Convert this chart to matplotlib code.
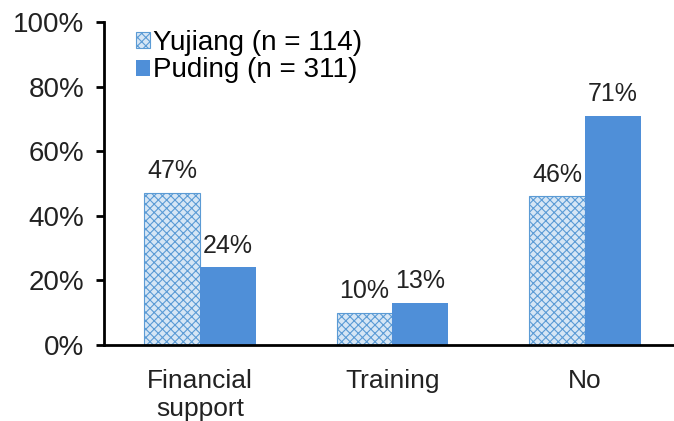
import numpy as np
import matplotlib.pyplot as plt
from matplotlib.ticker import FuncFormatter

categories = ['Financial\nsupport', 'Training', 'No']
yujiang = [47, 10, 46]
puding = [24, 13, 71]
series_names = ['Yujiang (n = 114)', 'Puding (n = 311)']

plt.rcParams['font.family'] = ['Liberation Sans', 'DejaVu Sans']
plt.rcParams['hatch.linewidth'] = 0.8

fig = plt.figure(figsize=(6.74, 4.21), dpi=100)
ax = fig.add_axes([104 / 674, (421 - 345) / 421, 577 / 674, 323 / 421])

x = np.arange(len(categories))
w = 0.29
b1 = ax.bar(x - w / 2, yujiang, w, color='#d6e6f5', edgecolor='#5b9bd5',
            hatch='xxxx', linewidth=0.8, label=series_names[0])
b2 = ax.bar(x + w / 2, puding, w, color='#4f8fd8', label=series_names[1])

for rects, vals in ((b1, yujiang), (b2, puding)):
    for r, v in zip(rects, vals):
        ax.text(r.get_x() + r.get_width() / 2, v + 3, f'{v}%', ha='center',
                va='bottom', fontsize=18, color='#222222')

ax.set_xlim(-0.5, 2.5)
ax.set_ylim(0, 100)
ax.set_yticks(range(0, 101, 20))
ax.yaxis.set_major_formatter(FuncFormatter(lambda v, p: f'{int(v)}%'))
ax.set_xticks(x)
ax.set_xticklabels(categories, linespacing=1.25)
ax.tick_params(axis='y', direction='out', length=6, width=2, labelsize=20,
               labelcolor='#222222', pad=8)
ax.tick_params(axis='x', length=0, labelsize=19, labelcolor='#222222', pad=17)
for s in ['top', 'right']:
    ax.spines[s].set_visible(False)
for s in ['left', 'bottom']:
    ax.spines[s].set_linewidth(2)

ax.legend(loc='upper left', bbox_to_anchor=(0.055, 0.975), frameon=False,
          fontsize=20, handlelength=0.5, handleheight=0.5, handletextpad=0.12,
          labelspacing=0.05, borderpad=0.0, borderaxespad=0.0)

fig.savefig('out.png', dpi=100)
